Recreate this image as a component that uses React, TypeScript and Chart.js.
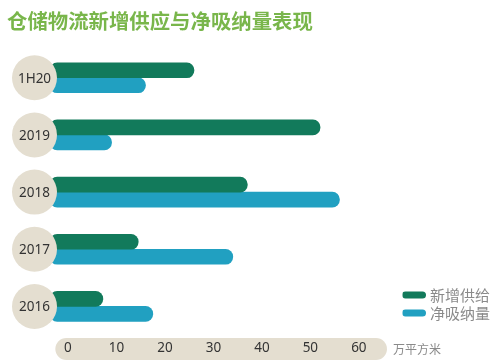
import React, { useEffect, useRef } from "react";
import { Chart, registerables } from "chart.js";

Chart.register(...registerables);

const categories = ["1H20", "2019", "2018", "2017", "2016"];
const newSupply = [26, 52, 37, 14.5, 7.2];
const netAbsorption = [16, 9, 56, 34, 17.5];
const xTickValues = [0, 10, 20, 30, 40, 50, 60];
const seriesNames = ["新增供给", "净吸纳量"];
const titleText = "仓储物流新增供应与净吸纳量表现";
const unitText = "万平方米";

const X_MIN = -3.7;
const X_MAX = 69.0;

const GREEN = "#127a5b";
const TEAL = "#21a0c1";
const BEIGE = "#e4ded0";
const TITLE_GREEN = "#79b64b";
const NUM_FONT = "'Noto Sans', 'Open Sans', sans-serif";
const CJK_FONT = "'Noto Sans CJK SC', sans-serif";

const decorPlugin = {
  id: "decor",
  afterLayout(chart: any) {
    const lg = chart.legend;
    if (lg) {
      lg.top -= 11.5;
      lg.bottom -= 11.5;
    }
  },
  beforeDraw(chart: any) {
    const { ctx, chartArea } = chart;
    const xScale = chart.scales.x;
    const left = xScale.getPixelForValue(-2.6);
    const right = xScale.getPixelForValue(65.8);
    const top = chartArea.bottom + 3;
    const h = 22;
    ctx.save();
    ctx.fillStyle = BEIGE;
    ctx.beginPath();
    ctx.roundRect(left, top, right - left, h, h / 2);
    ctx.fill();
    ctx.fillStyle = "#8a8a8a";
    ctx.font = `12px ${CJK_FONT}`;
    ctx.textBaseline = "middle";
    ctx.textAlign = "left";
    ctx.fillText(unitText, right + 6, top + h / 2);
    ctx.restore();
  },
  afterDatasetsDraw(chart: any) {
    const { ctx, chartArea } = chart;
    const yScale = chart.scales.y;
    const cx = chartArea.left - 15.5;
    const r = 22.5;
    ctx.save();
    categories.forEach((label, i) => {
      const cy = yScale.getPixelForValue(i);
      ctx.fillStyle = BEIGE;
      ctx.beginPath();
      ctx.arc(cx, cy, r, 0, Math.PI * 2);
      ctx.fill();
      ctx.fillStyle = "#333333";
      ctx.font = `13.5px ${NUM_FONT}`;
      ctx.textAlign = "center";
      ctx.textBaseline = "middle";
      ctx.fillText(label, cx, cy + 1);
    });
    ctx.restore();
  },
};

export default function App() {
  const canvasRef = useRef<HTMLCanvasElement | null>(null);

  useEffect(() => {
    const canvas = canvasRef.current;
    if (!canvas) return;
    const colors = [GREEN, TEAL];

    // fit the title font so the title spans the same width as the reference (~306px)
    let titleSize = 21;
    const mctx = document.createElement("canvas").getContext("2d");
    if (mctx) {
      mctx.font = `bold 100px ${CJK_FONT}`;
      const w = mctx.measureText(titleText).width;
      if (w > 0) titleSize = Math.round((306 / w) * 100 * 10) / 10;
    }

    const chart = new Chart(canvas, {
      type: "bar",
      data: {
        labels: categories,
        datasets: [
          {
            label: seriesNames[0],
            data: newSupply,
            backgroundColor: GREEN,
            borderRadius: 7.5,
            borderSkipped: false,
            barThickness: 15,
            base: X_MIN,
          } as any,
          {
            label: seriesNames[1],
            data: netAbsorption,
            backgroundColor: TEAL,
            borderRadius: 7.5,
            borderSkipped: false,
            barThickness: 15,
            base: X_MIN,
          } as any,
        ],
      },
      options: {
        indexAxis: "y",
        animation: false,
        responsive: true,
        maintainAspectRatio: false,
        layout: { padding: { left: 7, right: 0, top: 0, bottom: 0 } },
        plugins: {
          title: {
            display: true,
            text: titleText,
            align: "start",
            color: TITLE_GREEN,
            font: { size: titleSize, weight: "bold", family: CJK_FONT },
            padding: { top: 8.5 - (titleSize * 1.2 - 25.2) / 2, bottom: 15.5 - (titleSize * 1.2 - 25.2) / 2 },
          },
          legend: {
            display: true,
            position: "right",
            align: "end",
            fullSize: false,
            labels: {
              color: "#8a8a8a",
              font: { size: 15, family: CJK_FONT },
              usePointStyle: true,
              pointStyleWidth: 17,
              padding: 3,
              generateLabels: () =>
                seriesNames.map((name, i) => ({
                  text: name,
                  fillStyle: colors[i],
                  strokeStyle: colors[i],
                  lineWidth: 7,
                  lineCap: "round",
                  pointStyle: "line",
                  hidden: false,
                  datasetIndex: i,
                  fontColor: "#8a8a8a",
                })) as any,
            },
          },
          tooltip: { enabled: false },
        },
        scales: {
          x: {
            type: "linear",
            min: X_MIN,
            max: X_MAX,
            grid: { display: false, drawTicks: false },
            border: { display: false },
            ticks: {
              color: "#333333",
              font: { size: 13.5, family: NUM_FONT },
              padding: 5,
            },
            afterBuildTicks: (scale: any) => {
              scale.ticks = xTickValues.map((v) => ({ value: v }));
            },
            afterFit: (scale: any) => {
              scale.height = 29;
            },
          },
          y: {
            type: "category",
            offset: true,
            grid: { display: false, drawTicks: false },
            border: { display: false },
            ticks: { display: false },
            afterFit: (scale: any) => {
              scale.width = 43;
            },
          },
        },
      },
      plugins: [decorPlugin],
    });
    return () => chart.destroy();
  }, []);

  return (
    <div style={{ position: "absolute", left: 0, top: 0, width: 500, height: 364, background: "#ffffff" }}>
      <canvas ref={canvasRef} />
    </div>
  );
}
